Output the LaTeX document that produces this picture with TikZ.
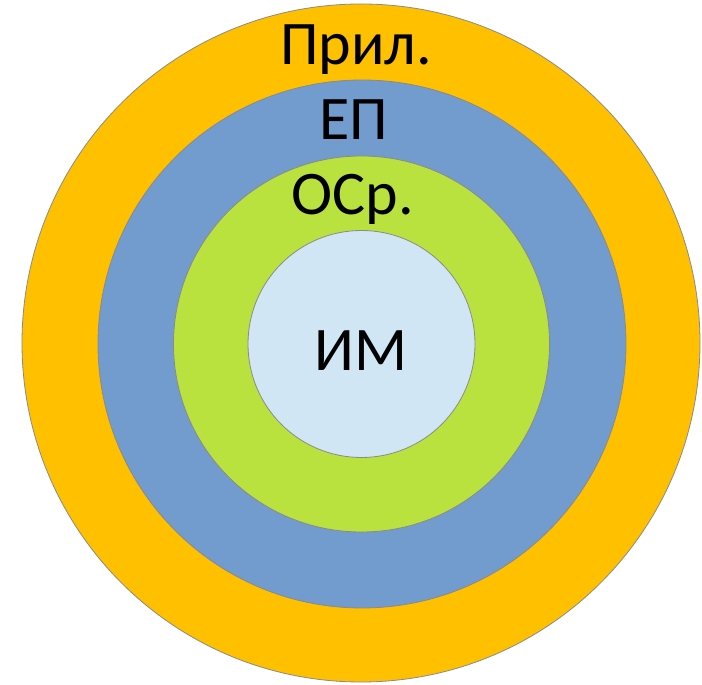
\documentclass[tikz,border=0pt]{standalone}
\usepackage{fontspec}
\setmainfont{Carlito}
\definecolor{ringA}{HTML}{FFC000}
\definecolor{ringB}{HTML}{729BCE}
\definecolor{ringC}{HTML}{BAE23F}
\definecolor{ringD}{HTML}{D0E6F4}
\definecolor{edge}{HTML}{8A8A8A}
\begin{document}
\begin{tikzpicture}[x=1pt,y=1pt,
  ring/.style={circle,draw=edge,line width=0.8pt,inner sep=0pt},
  lbl/.style={anchor=base,inner sep=0pt,font=\fontsize{62}{62}\selectfont}]
\useasboundingbox (0,0) rectangle (702,685);
\node[ring,fill=ringA,minimum size=678pt] (app) at (361,342) {};
\node[ring,fill=ringB,minimum size=528pt] (ep) at (362,341) {};
\node[ring,fill=ringC,minimum size=376pt] (os) at (361.5,341) {};
\node[ring,fill=ringD,minimum size=227pt] (im) at (361.5,341) {};
\node[lbl] (t1) at (356,620) {Прил.};
\node[lbl] (t2) at (354,545) {ЕП};
\node[lbl] (t3) at (353,470) {ОСр.};
\node[lbl] (t4) at (361,314) {ИМ};
\end{tikzpicture}
\end{document}
